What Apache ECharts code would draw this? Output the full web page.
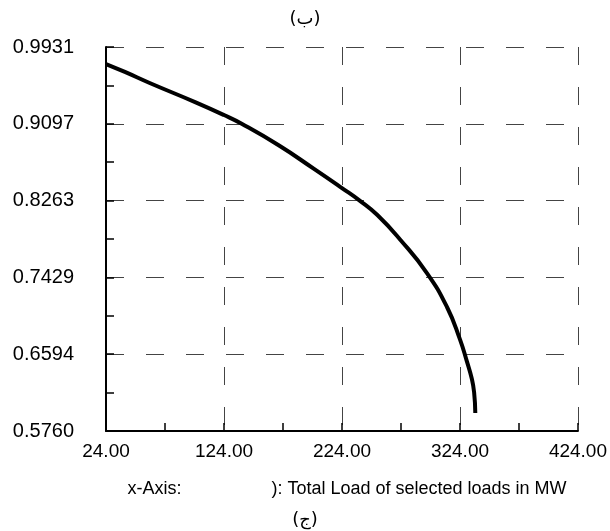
<!DOCTYPE html>
<html>
<head>
<meta charset="utf-8">
<script src="https://cdn.jsdelivr.net/npm/echarts@6/dist/echarts.min.js"></script>
<style>
html,body{margin:0;padding:0;background:#fff;}
#chart{width:610px;height:531px;}
</style>
</head>
<body>
<div id="chart"></div>
<script>
var xTickLabels = ['24.00', '124.00', '224.00', '324.00', '424.00'];
var yTickLabels = ['0.5760', '0.6594', '0.7429', '0.8263', '0.9097', '0.9931'];
var xValues = [24, 40, 61, 100, 124, 139, 170, 200, 224, 239, 254, 273.6, 296, 313, 324, 330, 334, 336, 337];
var yValues = [0.9746, 0.966, 0.954, 0.933, 0.9192, 0.9097, 0.8866, 0.861, 0.8399, 0.8263, 0.8106, 0.7835, 0.7476, 0.7107, 0.6755, 0.651, 0.633, 0.618, 0.5955];
var titleTop = '(ب)';
var titleBottom = '(ج)';
var xAxisName = 'x-Axis:' + '                  ' + '): Total Load of selected loads in MW';

var FONT = '"Liberation Sans", Arial, "DejaVu Sans", sans-serif';
var seriesData = xValues.map(function (x, i) { return [x, yValues[i]]; });

var chart = echarts.init(document.getElementById('chart'), null, {renderer: 'canvas'});
var tickStyle = {color: '#000', width: 1.5};
var gridDash = {color: '#444', width: 1, type: [18, 22]};

chart.setOption({
  animation: false,
  backgroundColor: '#fff',
  title: [
    {text: titleTop, left: 'center', top: 5, textStyle: {fontFamily: '"DejaVu Sans", sans-serif', fontSize: 18, fontWeight: 'normal', color: '#000'}},
    {text: titleBottom, left: 'center', top: 506, textStyle: {fontFamily: '"DejaVu Sans", sans-serif', fontSize: 18, fontWeight: 'normal', color: '#000'}}
  ],
  grid: {left: 106, right: 28, top: 47, bottom: 100, containLabel: false},
  xAxis: [
    {
      type: 'value', min: 0, max: xTickLabels.length - 1, interval: 1, position: 'bottom',
      axisLine: {show: true, lineStyle: {color: '#000', width: 2}},
      axisTick: {show: true, inside: true, length: 8, lineStyle: tickStyle},
      minorTick: {show: true, splitNumber: 2, length: 8, lineStyle: tickStyle},
      axisLabel: {margin: 11, fontFamily: FONT, fontSize: 19, color: '#000',
        formatter: function (v) { return xTickLabels[Math.round(v)]; }},
      splitLine: {show: true, lineStyle: gridDash},
      name: xAxisName, nameLocation: 'middle', nameGap: 49,
      nameTextStyle: {fontFamily: FONT, fontSize: 18, color: '#000', padding: [0, 0, 0, 10]}
    },
    {
      type: 'value', min: parseFloat(xTickLabels[0]), max: parseFloat(xTickLabels[xTickLabels.length - 1]), show: false
    }
  ],
  yAxis: [
    {
      type: 'value', min: 0, max: yTickLabels.length - 1, interval: 1, position: 'left',
      axisLine: {show: true, lineStyle: {color: '#000', width: 2}},
      axisTick: {show: true, inside: true, length: 8, lineStyle: tickStyle},
      minorTick: {show: true, splitNumber: 2, length: 8, lineStyle: tickStyle},
      axisLabel: {margin: 32, fontFamily: FONT, fontSize: 20, color: '#000',
        formatter: function (v) { return yTickLabels[Math.round(v)]; }},
      splitLine: {show: true, lineStyle: gridDash}
    },
    {
      type: 'value', min: parseFloat(yTickLabels[0]), max: parseFloat(yTickLabels[yTickLabels.length - 1]), show: false
    }
  ],
  series: [{
    type: 'line', xAxisIndex: 1, yAxisIndex: 1, data: seriesData,
    smooth: 0.5, showSymbol: false, symbol: 'none',
    lineStyle: {color: '#000', width: 4}
  }]
});
</script>
</body>
</html>
